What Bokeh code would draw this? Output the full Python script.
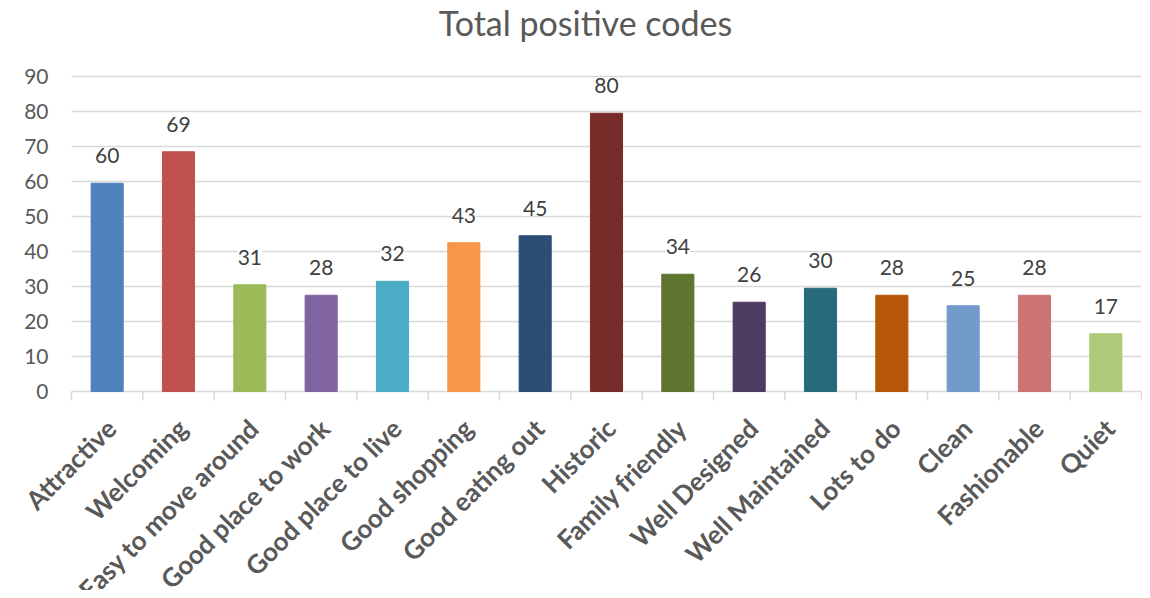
import numpy as np
from bokeh.plotting import figure
from bokeh.models import ColumnDataSource, LabelSet, Label, Range1d
from bokeh.core.properties import value
from bokeh.embed import file_html
from bokeh.resources import INLINE

categories = ["Attractive", "Welcoming", "Easy to move around", "Good place to work",
              "Good place to live", "Good shopping", "Good eating out", "Historic",
              "Family friendly", "Well Designed", "Well Maintained", "Lots to do",
              "Clean", "Fashionable", "Quiet"]
values = [59.5, 68.5, 30.5, 27.5, 31.5, 42.5, 44.5, 79.5, 33.5, 25.5, 29.5, 27.5, 24.5, 27.5, 16.5]
value_labels = ["60", "69", "31", "28", "32", "43", "45", "80", "34", "26", "30", "28", "25", "28", "17"]
colors = ["#4F81BD", "#C0504D", "#9BBB59", "#8064A2", "#4BACC6", "#F79646", "#2C4D75",
          "#772C2A", "#5F7530", "#4D3B62", "#276A7C", "#B65708", "#729ACA", "#CD7371", "#AFC97A"]
y_ticks = [0, 10, 20, 30, 40, 50, 60, 70, 80, 90]
title_text = "Total positive codes"

FONT = "Lato"
W, H = 1142, 590
LEFT = 71          # pixel column where the plotting area starts
RIGHT = 1141       # pixel column where the plotting area ends
ZERO_PX = 391      # pixel row of the value axis zero
TOP_PX = 76        # pixel row of the axis maximum
y_max = y_ticks[-1]
px_per_unit = (ZERO_PX - TOP_PX) / y_max

n = len(categories)
px_per_cat = (RIGHT - LEFT) / n
xs = np.arange(n) + 0.5
bounds = np.arange(n + 1)

src = ColumnDataSource(dict(x=xs, top=values, color=colors, lab=value_labels, cat=categories))
tick_src = ColumnDataSource(dict(y=y_ticks, t=[str(t) for t in y_ticks]))

p = figure(width=W, height=H, output_backend="svg", toolbar_location=None,
           x_range=Range1d(-LEFT / px_per_cat, n + (W - RIGHT) / px_per_cat),
           y_range=Range1d(-(H - ZERO_PX) / px_per_unit, ZERO_PX / px_per_unit),
           x_axis_location=None, y_axis_location=None,
           min_border_left=0, min_border_right=0, min_border_top=0, min_border_bottom=0)

p.outline_line_color = None
p.background_fill_color = "white"
p.border_fill_color = "white"
p.xgrid.grid_line_color = None
p.ygrid.grid_line_color = None

# horizontal gridlines (value axis) across the category span
p.segment(x0=np.zeros(len(y_ticks)), x1=np.full(len(y_ticks), n), y0=y_ticks, y1=y_ticks,
          line_color="#D9D9D9", line_width=1.5)

# category boundary ticks below the axis line
p.ray(x=bounds, y=np.zeros(n + 1), length=9, length_units="screen", angle=-np.pi / 2,
      line_color="#D9D9D9", line_width=1.5)

p.vbar(x="x", top="top", width=0.45, bottom=0, color="color", line_color="color", source=src)

labels = LabelSet(x="x", y="top", text="lab", source=src, text_align="center",
                  text_baseline="bottom", y_offset=20, text_font=value(FONT),
                  text_font_size="21px", text_color="#404040",
                  background_fill_color="white")
p.add_layout(labels)

cat_labels = LabelSet(x="x", y=0, text="cat", source=src, angle=np.pi / 4,
                      text_align="right", text_baseline="middle", x_offset=4, y_offset=-32,
                      text_font=value(FONT), text_font_size="26px", text_font_style="bold",
                      text_color="#595959")
p.add_layout(cat_labels)

y_labels = LabelSet(x=0, y="y", text="t", source=tick_src, text_align="right",
                    text_baseline="middle", x_offset=-23, text_font=value(FONT),
                    text_font_size="21px", text_color="#595959")
p.add_layout(y_labels)

title = Label(x=585, y=H - 22, x_units="screen", y_units="screen", text=title_text,
              text_align="center", text_baseline="middle", text_font=FONT,
              text_font_size="34px", text_color="#595959")
p.add_layout(title)

open("out.html", "w").write(file_html(p, INLINE))
